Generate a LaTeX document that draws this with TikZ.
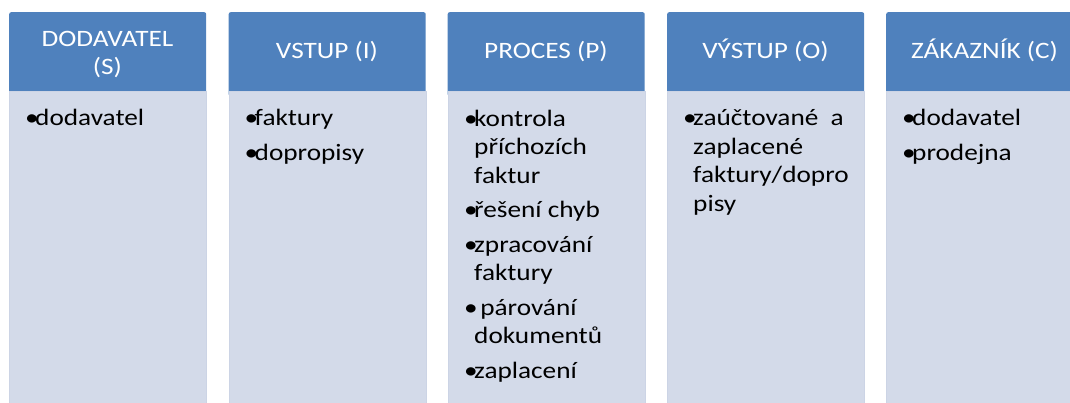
\documentclass[tikz,border=0pt]{standalone}
\usepackage{fontspec}
\setmainfont{Carlito}[FakeStretch=1.16]
\definecolor{hdrblue}{HTML}{4F81BD}
\definecolor{bodyfill}{HTML}{D3DAE9}
\definecolor{bodyedge}{HTML}{CCD4E5}
% bullet column and hanging indent for wrapped lines
\newcommand{\bul}{\makebox[10pt][l]{•}}
\newcommand{\cont}{\hspace*{10pt}}
\begin{document}
\begin{tikzpicture}[x=1pt,y=-1pt,
  header/.style={rectangle, rounded corners=2pt, fill=hdrblue, draw=none,
    minimum width=197pt, minimum height=84pt, anchor=north west, inner sep=0pt},
  bodybox/.style={rectangle, fill=bodyfill, draw=bodyedge, line width=0.8pt,
    minimum width=197pt, minimum height=330pt, anchor=north west, inner sep=0pt},
  headtext/.style={anchor=base, text=white, align=center,
    font=\fontsize{23.5}{28}\selectfont, inner sep=0pt},
  % anchored at the baseline of the last line
  itemtext/.style={anchor=base west, align=left,
    font=\fontsize{23.5}{28.5}\selectfont, inner sep=0pt},
]
\useasboundingbox (0,0) rectangle (1070,403);
\clip (0,0) rectangle (1070,403);

% column headers
\node[header] (hS) at (9,12) {};
\node[header] (hI) at (228.5,12) {};
\node[header] (hP) at (447.5,12) {};
\node[header] (hO) at (667,12) {};
\node[header] (hC) at (886,12) {};

% column bodies
\node[bodybox] (bS) at (9,91) {};
\node[bodybox] (bI) at (228.5,91) {};
\node[bodybox] (bP) at (447.5,91) {};
\node[bodybox] (bO) at (667,91) {};
\node[bodybox] (bC) at (886,91) {};

% header captions
\node[headtext] (tS) at (107.5,75) {DODAVATEL\\(S)};
\node[headtext] (tI) at (327,59) {VSTUP (I)};
\node[headtext] (tP) at (546,59) {PROCES (P)};
\node[headtext] (tO) at (765.5,59) {VÝSTUP (O)};
\node[headtext] (tC) at (984.5,59) {ZÁKAZNÍK (C)};

% bullet lists
\node[itemtext] (lS) at (25,126) {\bul dodavatel};
\node[itemtext] (lI) at (244.5,160.5) {\bul faktury\\[6pt]\bul dopropisy};
\node[itemtext] (lP) at (464,378) {\bul kontrola\\\cont příchozích\\\cont faktur\\[6pt]%
  \bul řešení chyb\\[6pt]\bul zpracování\\\cont faktury\\[6pt]%
  \bul\ párování\\\cont dokumentů\\[6pt]\bul zaplacení};
\node[itemtext] (lO) at (683,211.5) {\bul zaúčtované\ \ a\\\cont zaplacené\\\cont faktury/dopro\\\cont pisy};
\node[itemtext] (lC) at (902,160.5) {\bul dodavatel\\[6pt]\bul prodejna};
\end{tikzpicture}
\end{document}
